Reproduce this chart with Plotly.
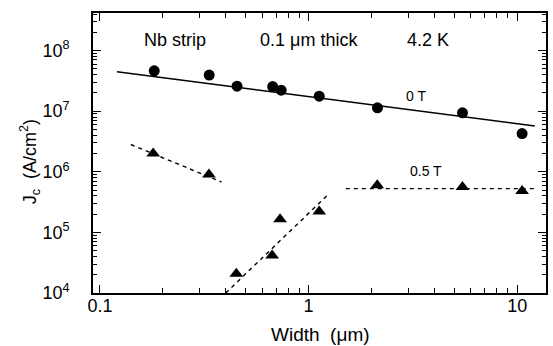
import plotly.graph_objects as go

# ---- data ----
width_0T = [0.182, 0.334, 0.454, 0.673, 0.739, 1.125, 2.14, 5.47, 10.56]
jc_0T = [4.63e7, 3.94e7, 2.59e7, 2.55e7, 2.22e7, 1.77e7, 1.135e7, 9.4e6, 4.28e6]

fit_0T_x = [0.1206, 12.15]
fit_0T_y = [4.47e7, 5.71e6]

width_05T = [0.180, 0.333, 0.4505, 0.669, 0.730, 1.125, 2.134, 5.467, 10.56]
jc_05T = [2.0e6, 9.0e5, 2.08e4, 4.17e4, 1.64e5, 2.22e5, 5.98e5, 5.61e5, 4.82e5]

seg1_x = [0.1407, 0.3822]
seg1_y = [2.82e6, 6.78e5]
seg2_x = [0.4008, 1.255]
seg2_y = [1.0e4, 4.37e5]
seg3_x = [1.508, 12.15]
seg3_y = [5.27e5, 5.27e5]

x_tickvals = [0.1, 1, 10]
x_ticktext = ["0.1", "1", "10"]
y_tickvals = [1e4, 1e5, 1e6, 1e7, 1e8]
y_ticktext = ["10<sup>4</sup>", "10<sup>5</sup>", "10<sup>6</sup>", "10<sup>7</sup>", "10<sup>8</sup>"]

FONT = "Liberation Sans, Arial, Helvetica, sans-serif"
XR = [-1.0334, 1.1383]
YR = [4, 8.62]

x_minor = [m * 10.0 ** e for e in range(-1, 2) for m in range(2, 10)]
y_minor = [m * 10.0 ** e for e in range(4, 9) for m in range(2, 10)]

fig = go.Figure()

fig.add_trace(go.Scatter(x=fit_0T_x, y=fit_0T_y, mode="lines",
                         line=dict(color="black", width=1.6), showlegend=False))
for sx, sy in [(seg1_x, seg1_y), (seg2_x, seg2_y), (seg3_x, seg3_y)]:
    fig.add_trace(go.Scatter(x=sx, y=sy, mode="lines",
                             line=dict(color="black", width=1.4, dash="4px,4px"),
                             showlegend=False))
fig.add_trace(go.Scatter(x=width_0T, y=jc_0T, mode="markers",
                         marker=dict(symbol="circle", size=11, color="black"),
                         showlegend=False))
fig.add_trace(go.Scatter(x=width_05T, y=jc_05T, mode="markers",
                         marker=dict(symbol="triangle-up", size=12, color="black"),
                         showlegend=False))
# invisible trace to anchor the mirrored (top/right) tick axes
fig.add_trace(go.Scatter(x=[x_tickvals[0]], y=[y_tickvals[0]], mode="markers",
                         marker=dict(opacity=0), xaxis="x2", yaxis="y2",
                         showlegend=False, hoverinfo="skip"))

tick_common = dict(ticks="inside", tickwidth=1, tickcolor="black")

fig.update_layout(
    xaxis=dict(type="log", range=XR, tickmode="array", tickvals=x_tickvals,
               ticktext=x_ticktext, ticklabelstandoff=-4, ticklen=8,
               showgrid=False, zeroline=False, showline=True, linecolor="black",
               linewidth=1.6, mirror=True,
               tickfont=dict(family=FONT, size=18, color="black"),
               minor=dict(ticklen=5, tickmode="array", tickvals=x_minor, **tick_common),
               **tick_common),
    yaxis=dict(type="log", range=YR, tickmode="array", tickvals=y_tickvals,
               ticktext=y_ticktext, ticklabelstandoff=18, ticklen=8,
               showgrid=False, zeroline=False, showline=True, linecolor="black",
               linewidth=1.6, mirror=True,
               tickfont=dict(family=FONT, size=18, color="black"),
               minor=dict(ticklen=4, tickmode="array", tickvals=y_minor, **tick_common),
               **tick_common),
    xaxis2=dict(type="log", range=XR, overlaying="x", side="top", anchor="y2",
                tickmode="array", tickvals=x_tickvals, ticklen=8, showticklabels=False,
                showgrid=False, zeroline=False, showline=False,
                minor=dict(ticklen=5, tickmode="array", tickvals=x_minor, **tick_common),
                **tick_common),
    yaxis2=dict(type="log", range=YR, overlaying="y", side="right", anchor="x2",
                tickmode="array", tickvals=y_tickvals, ticklen=8, showticklabels=False,
                showgrid=False, zeroline=False, showline=False,
                minor=dict(ticklen=4, tickmode="array", tickvals=y_minor, **tick_common),
                **tick_common),
)

def ann(text, x, y, size, angle=0):
    fig.add_annotation(text=text, x=x, y=y, xref="paper", yref="paper",
                       showarrow=False, xanchor="center", yanchor="middle",
                       textangle=angle, font=dict(family=FONT, size=size, color="black"))

ann("Nb strip", 0.182, 0.904, 18)
ann("0.1 \u03bcm thick", 0.4763, 0.904, 18)
ann("4.2 K", 0.7385, 0.904, 18)
ann("0 T", 0.712, 0.7036, 14)
ann("0.5 T", 0.736, 0.4357, 14)
ann("Width  (\u03bcm)", 0.5026, -0.147, 19)
ann("J<sub>c</sub>  (A/cm<sup>2</sup>)", -0.1385, 0.468, 18, angle=-90)

fig.update_layout(
    width=553, height=346,
    margin=dict(l=93, r=5, t=13, b=53),
    plot_bgcolor="white", paper_bgcolor="white",
    font=dict(family=FONT, color="black"),
)

fig.write_html("out.html")
